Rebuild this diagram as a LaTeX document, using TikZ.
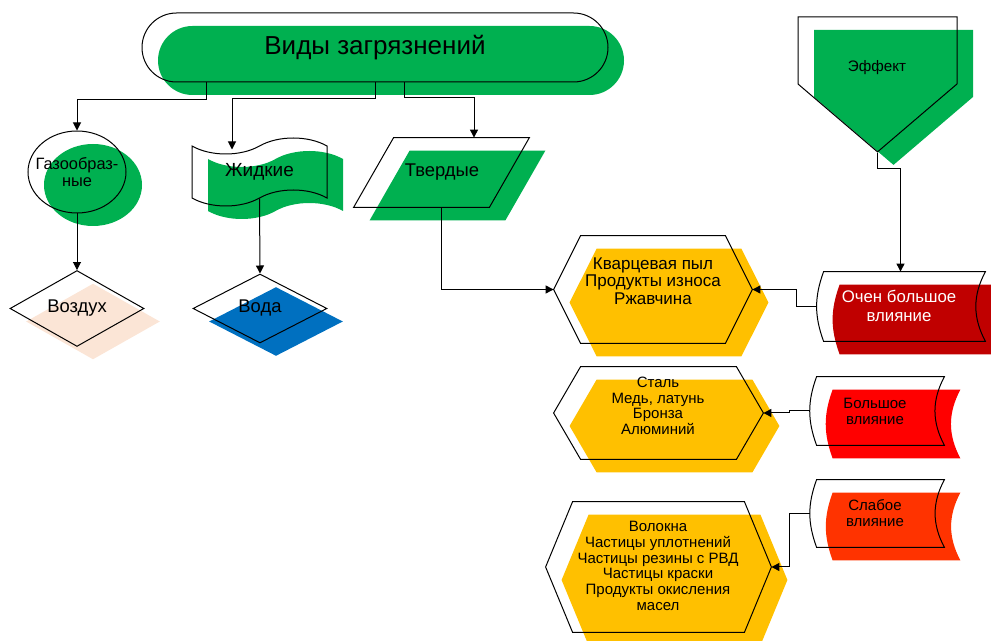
\documentclass[tikz,border=0pt]{standalone}
\usepackage{fontspec}
\setmainfont{Liberation Sans}
\usetikzlibrary{shapes.geometric,shapes.misc,shapes.symbols,shadows,arrows.meta}

\definecolor{vgreen}{HTML}{00B050}
\definecolor{vpeach}{HTML}{FBE5D6}
\definecolor{vblue}{HTML}{0070C0}
\definecolor{vorange}{HTML}{FFC000}
\definecolor{vdarkred}{HTML}{C00000}
\definecolor{vred}{HTML}{FF0000}
\definecolor{vscarlet}{HTML}{FF3300}

% outline paths for the shapes TikZ has no node shape for
\newcommand{\hexshape}[2]{([#2]#1.west) -- ([#2,xshift=13.5pt]#1.north west) -- ([#2,xshift=-13.5pt]#1.north east) -- ([#2]#1.east) -- ([#2,xshift=-13.5pt]#1.south east) -- ([#2,xshift=13.5pt]#1.south west) -- cycle}
\newcommand{\slantshape}[2]{([#2]#1.south west) -- ([#2,xshift=-20pt]#1.south east) -- ([#2]#1.north east) -- ([#2,xshift=20pt]#1.north west) -- cycle}
\newcommand{\storeshape}[2]{([#2]#1.north west) -- ([#2]#1.north east) to[bend right=28] ([#2]#1.south east) -- ([#2]#1.south west) to[bend left=20] ([#2]#1.north west) -- cycle}

\tikzset{
  sh/.style={shift={(8pt,-6.5pt)}},
  noshift/.style={},
  dropfill/.style={general shadow={fill=#1, shadow xshift=8pt, shadow yshift=-6.5pt}},
  box/.style={draw, line width=0.5pt, inner sep=0pt, align=center},
  slot/.style={inner sep=0pt},
  txt/.style={inner sep=0pt, align=center},
  conn/.style={line width=0.5pt, -{Triangle[length=4pt,width=4pt]}}
}

\begin{document}
\begin{tikzpicture}[x=0.5pt, y=-0.5pt]
    \useasboundingbox (0,0) rectangle (991,641);

    % Kinds of contamination
    \node [box, rounded rectangle, dropfill=vgreen, minimum width=233pt, minimum height=34.5pt,
           font=\fontsize{13}{15}\selectfont] (kinds) at (375,47.5) {Виды загрязнений};

    % Gas / liquid / solid
    \node [box, ellipse, dropfill=vgreen, minimum width=49pt, minimum height=41pt] (gas) at (77,172) {};
    \node [txt, font=\fontsize{8.2}{8.6}\selectfont] (gastext) at (77,172) {Газообраз-\\ные};
    \node [box, tape, dropfill=vgreen, minimum width=67.5pt, minimum height=34pt, tape bend height=8pt,
           font=\fontsize{9.5}{11}\selectfont] (liquid) at (259.5,172) {Жидкие};
    \node [slot, minimum width=87.5pt, minimum height=34.5pt] (solid) at (441.5,172.5) {};
    \fill [vgreen] \slantshape{solid}{sh};
    \draw [line width=0.5pt] \slantshape{solid}{noshift};
    \node [txt, font=\fontsize{9.2}{11}\selectfont] (solidtext) at (442,172) {Твердые};

    % Media
    \node [box, diamond, dropfill=vpeach, minimum width=67pt, minimum height=34.5pt,
           font=\fontsize{9.2}{11}\selectfont] (air) at (77,308.5) {Воздух};
    \node [box, diamond, dropfill=vblue, minimum width=67pt, minimum height=34.5pt,
           font=\fontsize{9.2}{11}\selectfont] (water) at (260,308.5) {Вода};

    % Effect
    \node [box, signal, signal to=south, signal from=nowhere, signal pointer angle=99, dropfill=vgreen,
           minimum width=79.5pt, minimum height=33.5pt] (effect) at (877.5,50.5) {};
    \node [txt, font=\fontsize{7.6}{9}\selectfont] (effecttext) at (877,68) {Эффект};

    % Particle groups
    \node [slot, minimum width=99pt, minimum height=53.5pt] (sand) at (653,289.5) {};
    \fill [vorange] \hexshape{sand}{sh};
    \draw [line width=0.5pt] \hexshape{sand}{noshift};
    \node [txt, font=\fontsize{8.5}{8.8}\selectfont] (sandtext) at (653,281) {Кварцевая пыл\\Продукты износа\\Ржавчина};

    \node [slot, minimum width=104.5pt, minimum height=46pt] (metal) at (658.5,413) {};
    \fill [vorange] \hexshape{metal}{sh};
    \draw [line width=0.5pt] \hexshape{metal}{noshift};
    \node [txt, font=\fontsize{7.5}{7.8}\selectfont] (metaltext) at (658,406) {Сталь\\Медь, латунь\\Бронза\\Алюминий};

    \node [slot, minimum width=112.5pt, minimum height=65pt] (fibre) at (658.5,567) {};
    \fill [vorange] \hexshape{fibre}{sh};
    \draw [line width=0.5pt] \hexshape{fibre}{noshift};
    \node [txt, font=\fontsize{7.5}{7.9}\selectfont] (fibretext) at (658,566) {Волокна\\Частицы уплотнений\\Частицы резины с РВД\\Частицы краски\\Продукты окисления\\масел};

    % Influence
    \node [slot, minimum width=80.5pt, minimum height=34.5pt] (vbig) at (904.5,306.5) {};
    \fill [vdarkred] \storeshape{vbig}{sh};
    \draw [line width=0.5pt] \storeshape{vbig}{noshift};
    \node [txt, text=white, font=\fontsize{8.4}{9.5}\selectfont] (vbigtext) at (899,306) {Очен большое\\влияние};

    \node [slot, minimum width=63.5pt, minimum height=34pt] (big) at (880.5,411) {};
    \fill [vred] \storeshape{big}{sh};
    \draw [line width=0.5pt] \storeshape{big}{noshift};
    \node [txt, font=\fontsize{7.5}{8}\selectfont] (bigtext) at (875,411) {Большое\\влияние};

    \node [slot, minimum width=63.5pt, minimum height=33.5pt] (weak) at (880.5,513.5) {};
    \fill [vscarlet] \storeshape{weak}{sh};
    \draw [line width=0.5pt] \storeshape{weak}{noshift};
    \node [txt, font=\fontsize{7.5}{8}\selectfont] (weaktext) at (875,513.5) {Слабое\\влияние};

    % Connectors
    \draw [conn] ([xshift=-84.5pt]kinds.south) -- ++(0,17) -| (gas.north);
    \draw [conn] (kinds.south) -- ++(0,16) -| ([xshift=-13.75pt,yshift=-2pt]liquid.north);
    \draw [conn] ([xshift=14.5pt]kinds.south) -- ++(0,15) -| ([xshift=16.25pt]solid.north);
    \draw [conn] (gas.south) -- (air.north);
    \draw [conn] (liquid.south) -- (water.north);
    \draw [conn] (solid.south) |- (sand.west);
    \draw [conn] (effect.south) -- ++(0,16) -| ([xshift=-2pt]vbig.north);
    \draw [conn] ([xshift=-3.5pt]vbig.west) -- ++(-20,0) |- (sand.east);
    \draw [conn] ([xshift=-3.5pt]big.west) -- ++(-20,0) |- (metal.east);
    \draw [conn] ([xshift=-3.5pt]weak.west) -- ++(-20,0) |- (fibre.east);
\end{tikzpicture}
\end{document}
